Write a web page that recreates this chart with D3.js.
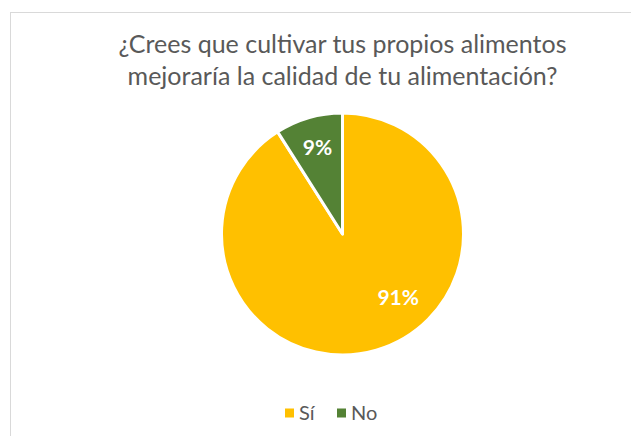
<!DOCTYPE html>
<html>
<head>
<meta charset="utf-8">
<script src="https://cdn.jsdelivr.net/npm/d3@7"></script>
<style>
  body { margin: 0; background: #fff; }
  text { font-family: Lato, "Open Sans", sans-serif; }
</style>
</head>
<body>
<script>
var w = 631;
var h = 436;

var categories = ["Sí", "No"];
var values = [91, 9];
var colors = ["#FFC000", "#548235"];
var titleLines = ["¿Crees que cultivar tus propios alimentos", "mejoraría la calidad de tu alimentación?"];

var cx = 342.5, cy = 234, r = 121;

var svg = d3.select("body")
    .append("svg")
    .attr("width", w)
    .attr("height", h);

// chart border (runs off the right and bottom edge)
svg.append("rect")
    .attr("x", 10.5).attr("y", 12.5)
    .attr("width", 700).attr("height", 500)
    .attr("fill", "#fff")
    .attr("stroke", "#D9D9D9")
    .attr("stroke-width", 1);

svg.selectAll(".title")
    .data(titleLines)
    .enter().append("text")
    .attr("class", "title")
    .attr("x", cx)
    .attr("y", function(d, i) { return 53 + i * 32; })
    .attr("text-anchor", "middle")
    .attr("font-size", 25)
    .attr("fill", "#595959")
    .text(function(d) { return d; });

var pie = d3.pie().sort(null).value(function(d) { return d; });
var arcs = pie(values);
var arc = d3.arc().innerRadius(0).outerRadius(r);

var g = svg.append("g").attr("transform", "translate(" + cx + "," + cy + ")");

g.selectAll("path")
    .data(arcs)
    .enter().append("path")
    .attr("d", arc)
    .attr("fill", function(d, i) { return colors[i]; })
    .attr("stroke", "#fff")
    .attr("stroke-width", 3)
    .attr("stroke-linejoin", "round");

var total = d3.sum(values);
g.selectAll(".lbl")
    .data(arcs)
    .enter().append("text")
    .attr("class", "lbl")
    .attr("transform", function(d) {
        // big slice: excel pushes the label toward the lower right
        var big = d.data > total / 2;
        var a = big ? d.startAngle + (d.endAngle - d.startAngle) * 0.424 : (d.startAngle + d.endAngle) / 2;
        var rr = big ? r * 0.70 : r * 0.74;
        return "translate(" + (Math.sin(a) * rr) + "," + (-Math.cos(a) * rr) + ")";
    })
    .attr("dy", "0.35em")
    .attr("text-anchor", "middle")
    .attr("font-size", 21)
    .attr("font-weight", "bold")
    .attr("fill", "#fff")
    .text(function(d) { return Math.round(d.data / total * 100) + "%"; });

var legend = svg.append("g").attr("transform", "translate(0,413)");
var lx = [285, 337];
var items = legend.selectAll("g")
    .data(categories)
    .enter().append("g")
    .attr("transform", function(d, i) { return "translate(" + lx[i] + ",0)"; });
items.append("rect")
    .attr("x", 0).attr("y", -4.5)
    .attr("width", 9).attr("height", 9)
    .attr("fill", function(d, i) { return colors[i]; });
items.append("text")
    .attr("x", 14)
    .attr("dy", "0.35em")
    .attr("font-size", 20)
    .attr("fill", "#595959")
    .text(function(d) { return d; });
</script>
</body>
</html>
